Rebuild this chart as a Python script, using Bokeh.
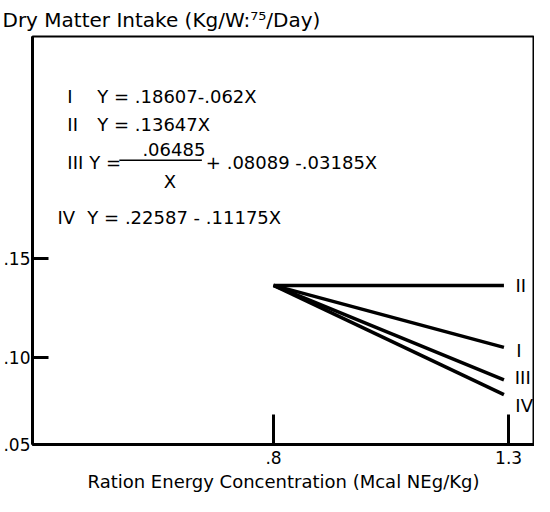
from bokeh.plotting import figure
from bokeh.embed import file_html
from bokeh.resources import INLINE
from bokeh.models import FixedTicker, Label

# ---- data ----
x_vals = [0.8, 1.29]
series_names = ["I", "II", "III", "IV"]
series_y = {
    "I":   [0.1365, 0.1050],
    "II":  [0.1365, 0.1365],
    "III": [0.1365, 0.0885],
    "IV":  [0.1365, 0.0810],
}
x_ticks = [0.8, 1.3]
x_tick_labels = [".8", "1.3"]
y_ticks = [0.0556, 0.10, 0.15]
y_tick_labels = [".05", ".10", ".15"]

equations = [
    ("I", "Y = .18607-.062X"),
    ("II", "Y = .13647X"),
    ("III", None),
    ("IV", "Y = .22587 - .11175X"),
]

FONT = "DejaVu Sans"
INK = "black"

p = figure(width=534, height=496, output_backend="svg", toolbar_location=None,
           x_range=(0.2873, 1.355), y_range=(0.0556, 0.2631),
           min_border_left=30, min_border_right=0, min_border_top=35, min_border_bottom=52)
p.title.text = "Dry Matter Intake (Kg/W:\u2077\u2075/Day)"
p.title.text_font = FONT
p.title.text_font_size = "20px"
p.title.text_font_style = "normal"
p.title.text_color = INK
p.title.align = "left"
p.title.offset = -30
p.grid.visible = False
p.outline_line_color = INK
p.outline_line_width = 2
p.background_fill_color = "white"
p.border_fill_color = "white"

# axes
p.xaxis.ticker = FixedTicker(ticks=x_ticks)
p.xaxis.major_label_overrides = {t: l for t, l in zip(x_ticks, x_tick_labels)}
p.yaxis.ticker = FixedTicker(ticks=y_ticks)
p.yaxis.major_label_overrides = {t: l for t, l in zip(y_ticks, y_tick_labels)}
for ax in (p.xaxis, p.yaxis):
    ax.axis_line_width = 3
    ax.axis_line_color = INK
    ax.major_tick_line_width = 3
    ax.major_tick_line_color = INK
    ax.minor_tick_line_color = None
    ax.major_tick_out = 0
    ax.major_label_text_font = FONT
    ax.major_label_text_font_size = "17px"
    ax.major_label_text_color = INK
p.xaxis.major_tick_in = 30
p.yaxis.major_tick_in = 16
p.yaxis.major_label_standoff = 2
p.xaxis.major_label_standoff = 6
p.xaxis.axis_label = "Ration Energy Concentration (Mcal NEg/Kg)"
p.xaxis.axis_label_text_font = FONT
p.xaxis.axis_label_text_font_size = "18px"
p.xaxis.axis_label_text_font_style = "normal"
p.xaxis.axis_label_text_color = INK
p.xaxis.axis_label_standoff = 4

# lines
for name in series_names:
    p.line(x_vals, series_y[name], line_color=INK, line_width=3.5)

# end labels
end_label_x = {"I": 1.322, "II": 1.326, "III": 1.330, "IV": 1.333}
end_label_dy = {"I": -0.0015, "II": 0.0, "III": 0.0010, "IV": -0.0055}
for name in series_names:
    p.add_layout(Label(x=end_label_x[name], y=series_y[name][-1] + end_label_dy[name],
                       text=name, text_font=FONT, text_font_size="18px", text_color=INK,
                       text_align="center", text_baseline="middle"))

# equations
EQ = "18px"
eq_y = {"I": 0.2328, "II": 0.2182, "III": 0.199, "IV": 0.1712}
num_x = {"I": 0.3614, "II": 0.3614, "III": 0.3614, "IV": 0.3403}
eqx = {"I": 0.425, "II": 0.425, "III": 0.408, "IV": 0.404}
for num, txt in equations:
    p.add_layout(Label(x=num_x[num], y=eq_y[num], text=num, text_font=FONT,
                       text_font_size=EQ, text_color=INK, text_baseline="middle"))
    if txt:
        p.add_layout(Label(x=eqx[num], y=eq_y[num], text=txt, text_font=FONT,
                           text_font_size=EQ, text_color=INK, text_baseline="middle"))
# equation III with fraction
p.add_layout(Label(x=eqx["III"], y=eq_y["III"], text="Y =", text_font=FONT,
                   text_font_size=EQ, text_color=INK, text_baseline="middle"))
p.add_layout(Label(x=0.588, y=0.2058, text=".06485", text_font=FONT,
                   text_font_size=EQ, text_color=INK, text_baseline="middle", text_align="center"))
p.line([0.472, 0.6475], [0.2002, 0.2002], line_color=INK, line_width=1.5)
p.add_layout(Label(x=0.5797, y=0.1892, text="X", text_font=FONT,
                   text_font_size=EQ, text_color=INK, text_baseline="middle", text_align="center"))
p.add_layout(Label(x=0.656, y=eq_y["III"], text="+ .08089 -.03185X", text_font=FONT,
                   text_font_size=EQ, text_color=INK, text_baseline="middle"))

open("out.html", "w").write(file_html(p, INLINE))
